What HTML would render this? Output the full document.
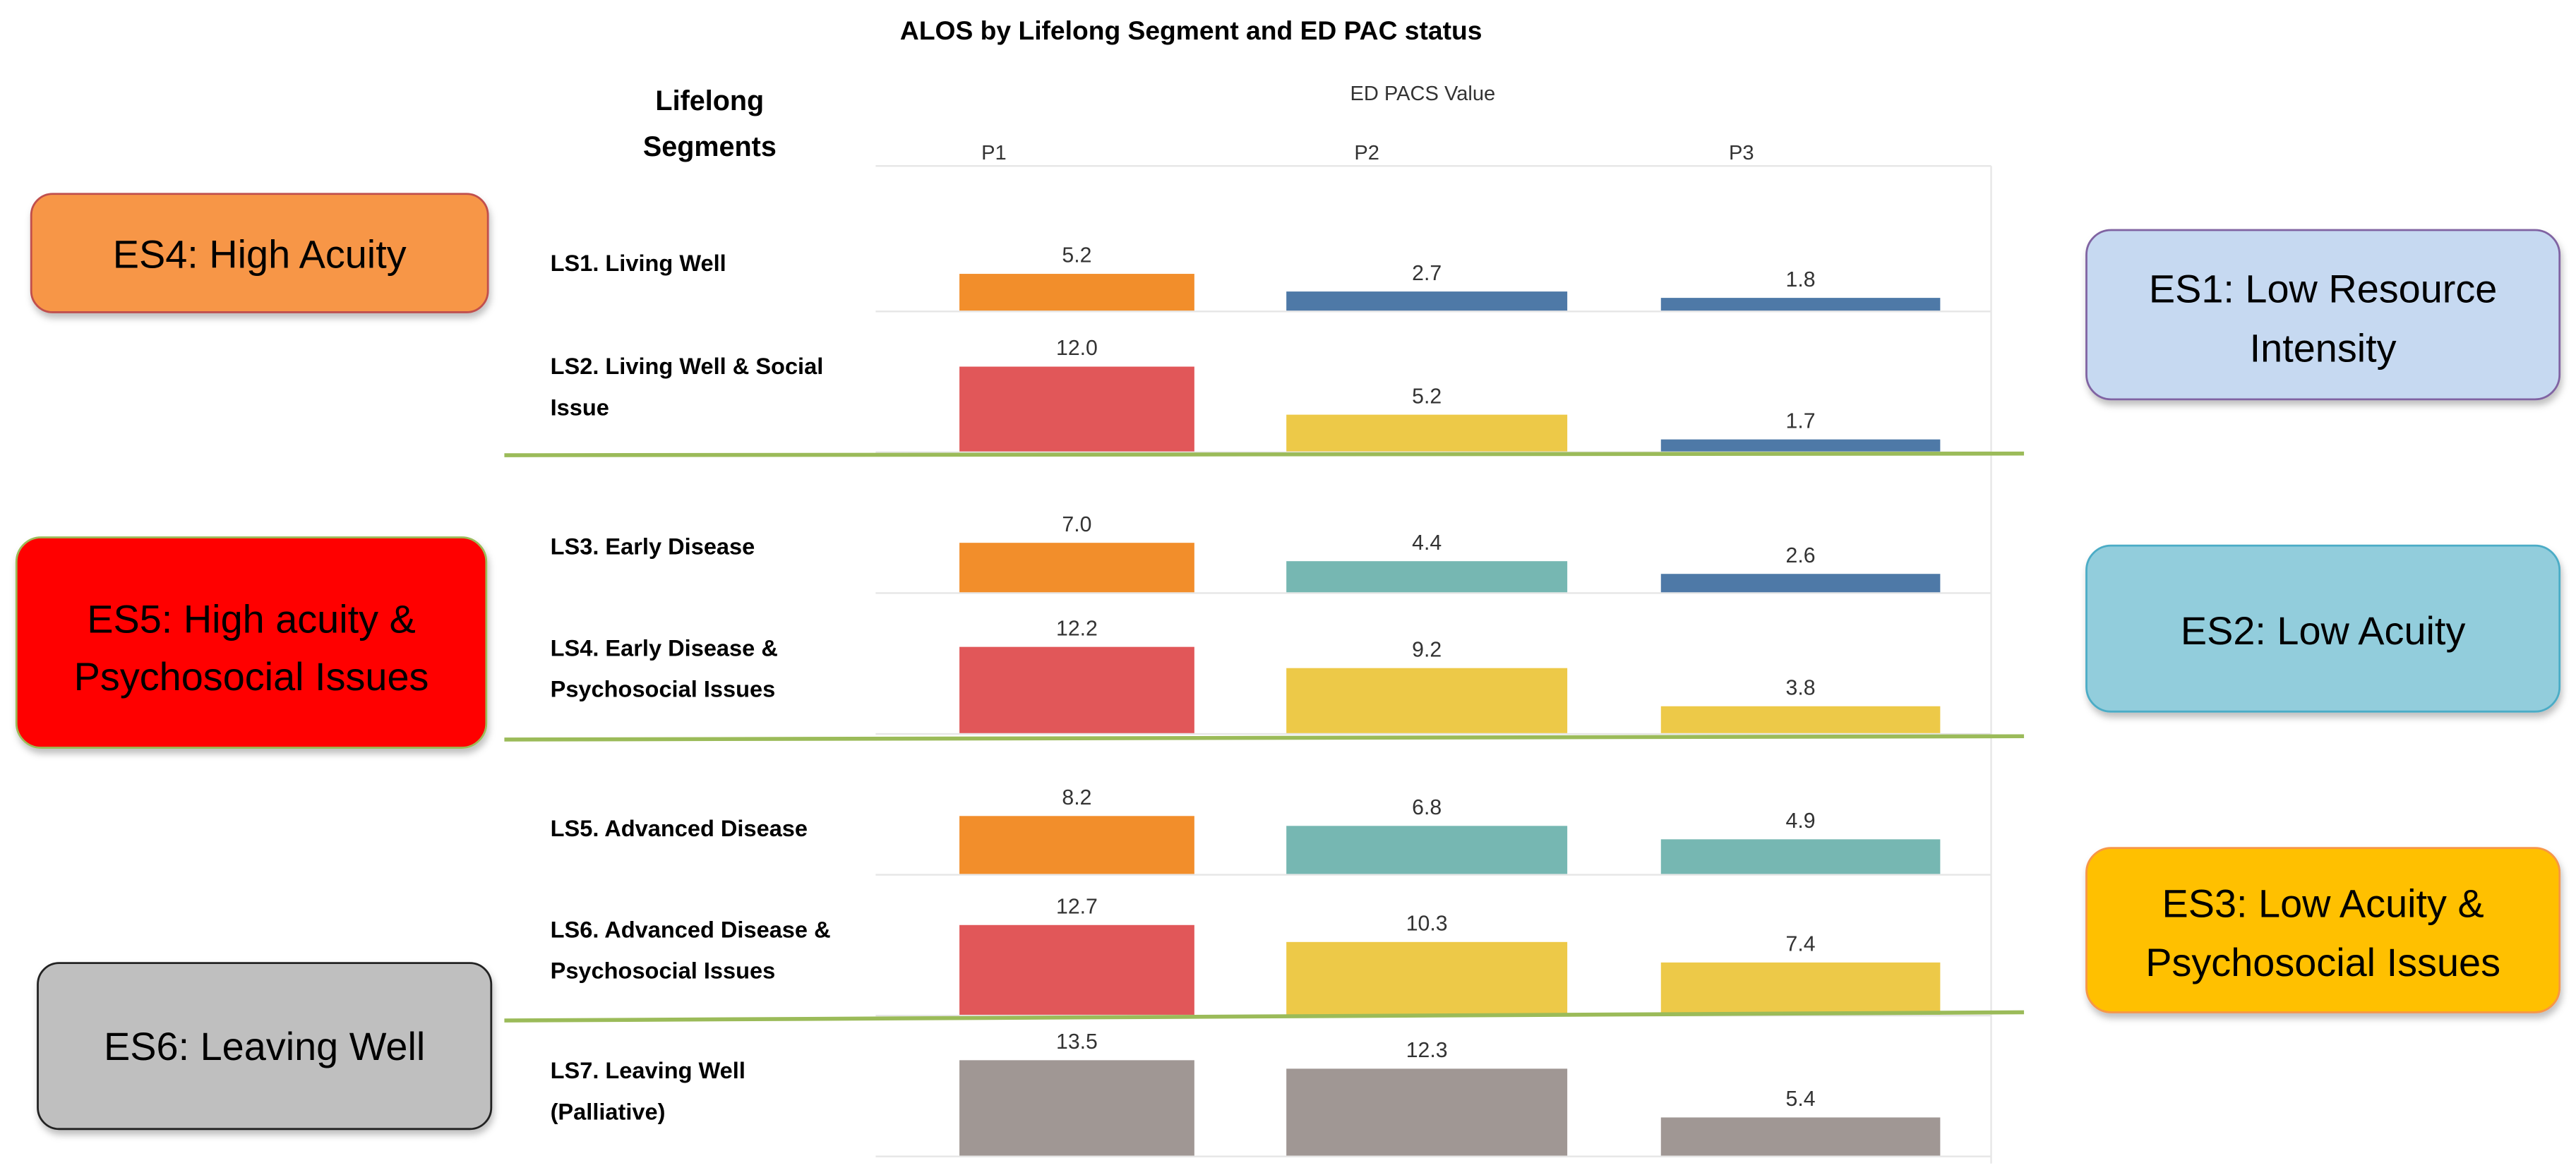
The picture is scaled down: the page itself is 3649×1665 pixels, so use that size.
<!DOCTYPE html>
<html><head><meta charset="utf-8"><style>
html,body{margin:0;padding:0;background:#fff;}
svg{display:block;}
text{font-family:"Liberation Sans",sans-serif;}
</style></head><body>
<svg id="chart" width="3649" height="1665" viewBox="0 0 1568 715" preserveAspectRatio="none" xmlns="http://www.w3.org/2000/svg">
<defs><filter id="sh" x="-10%" y="-10%" width="130%" height="140%"><feDropShadow dx="1" dy="3" stdDeviation="2" flood-color="#000" flood-opacity="0.25"/></filter></defs>
<text x="725" y="24" font-size="16" font-weight="bold" text-anchor="middle">ALOS by Lifelong Segment and ED PAC status</text>
<text x="432" y="67" font-size="17" font-weight="bold" text-anchor="middle">Lifelong</text>
<text x="432" y="95" font-size="17" font-weight="bold" text-anchor="middle">Segments</text>
<text x="866" y="61" font-size="12.5" fill="#333" text-anchor="middle">ED PACS Value</text>
<line x1="533" y1="101" x2="1212" y2="101" stroke="#e6e6e6" stroke-width="1"/>
<line x1="1212" y1="101" x2="1212" y2="708" stroke="#e6e6e6" stroke-width="1"/>
<g id="cols"></g><g id="rows"></g><g id="bars"></g>
<line x1="307" y1="277" x2="1232" y2="276" stroke="#9bbb59" stroke-width="2.4"/>
<line x1="307" y1="450" x2="1232" y2="448" stroke="#9bbb59" stroke-width="2.4"/>
<line x1="307" y1="621" x2="1232" y2="616" stroke="#9bbb59" stroke-width="2.4"/>

<g filter="url(#sh)"><rect x="19" y="118" width="278" height="72" rx="13" fill="#F79646" stroke="#c0504d" stroke-width="1.2"/></g>
<text x="158" y="163" font-size="24" text-anchor="middle">ES4: High Acuity</text>
<g filter="url(#sh)"><rect x="10" y="327" width="286" height="128" rx="15" fill="#FF0000" stroke="#9bbb59" stroke-width="1.2"/></g>
<text x="153" y="385" font-size="24" text-anchor="middle">ES5: High acuity &amp;</text>
<text x="153" y="420" font-size="24" text-anchor="middle">Psychosocial Issues</text>
<g filter="url(#sh)"><rect x="23" y="586" width="276" height="101" rx="13" fill="#BFBFBF" stroke="#222" stroke-width="1.2"/></g>
<text x="161" y="645" font-size="24" text-anchor="middle">ES6: Leaving Well</text>
<g filter="url(#sh)"><rect x="1270" y="140" width="288" height="103" rx="15" fill="#C6D9F1" stroke="#8064A2" stroke-width="1.2"/></g>
<text x="1414" y="184" font-size="24" text-anchor="middle">ES1: Low Resource</text>
<text x="1414" y="220" font-size="24" text-anchor="middle">Intensity</text>
<g filter="url(#sh)"><rect x="1270" y="332" width="288" height="101" rx="15" fill="#92CDDC" stroke="#4bacc6" stroke-width="1.2"/></g>
<text x="1414" y="392" font-size="24" text-anchor="middle">ES2: Low Acuity</text>
<g filter="url(#sh)"><rect x="1270" y="516" width="288" height="100" rx="15" fill="#FFC000" stroke="#f79646" stroke-width="1.2"/></g>
<text x="1414" y="558" font-size="24" text-anchor="middle">ES3: Low Acuity &amp;</text>
<text x="1414" y="594" font-size="24" text-anchor="middle">Psychosocial Issues</text>
</svg>
<script>
const columns = ["P1", "P2", "P3"];
const segmentLines = [["LS1. Living Well"], ["LS2. Living Well & Social", "Issue"], ["LS3. Early Disease"], ["LS4. Early Disease &", "Psychosocial Issues"], ["LS5. Advanced Disease"], ["LS6. Advanced Disease &", "Psychosocial Issues"], ["LS7. Leaving Well", "(Palliative)"]];
const valuesP1 = [5.2, 12.0, 7.0, 12.2, 8.2, 12.7, 13.5];
const valuesP2 = [2.7, 5.2, 4.4, 9.2, 6.8, 10.3, 12.3];
const valuesP3 = [1.8, 1.7, 2.6, 3.8, 4.9, 7.4, 5.4];
const colorGroupP1 = ["orange", "red", "orange", "red", "orange", "red", "gray"];
const colorGroupP2 = ["blue", "yellow", "teal", "yellow", "teal", "yellow", "gray"];
const colorGroupP3 = ["blue", "blue", "blue", "yellow", "teal", "yellow", "gray"];

const palette = {orange:"#F28E2B", red:"#E15759", blue:"#4E79A7", yellow:"#EDC948", teal:"#76B7B2", gray:"#A09794"};
const NS = "http://www.w3.org/2000/svg";
const colLeft = [584, 783, 1011], colWidth = [143, 171, 170];
function xBand(i){ return colLeft[i]; }
function rowBase(r){ return 189 + r * 85.7; }
function yScale(v){ return v * 4.3; }
function mk(tag, attrs, parent){ const e = document.createElementNS(NS, tag); for (const k in attrs) e.setAttribute(k, attrs[k]); parent.appendChild(e); return e; }
const colsG = document.getElementById("cols"), rowsG = document.getElementById("rows"), barsG = document.getElementById("bars");
columns.forEach((c, i) => {
  const t = mk("text", {x: xBand(i) + (i === 0 ? 21 : 49), y: 97, "font-size": 12.5, fill: "#333", "text-anchor": "middle"}, colsG);
  
  
  t.textContent = c;
});
const series = [valuesP1, valuesP2, valuesP3];
const groups = [colorGroupP1, colorGroupP2, colorGroupP3];
segmentLines.forEach((lines, r) => {
  const base = rowBase(r);
  const ln = mk("line", {x1: 533, x2: 1212, y1: base + 0.5, y2: base + 0.5, stroke: "#e6e6e6", "stroke-width": 1}, rowsG);
  
  
  const ys = lines.length === 1 ? [base - 23] : [base - 47, base - 22];
  if (r === 0) ys[0] = 165;
  lines.forEach((s, k) => {
    const t = mk("text", {x: 335, y: ys[k], "font-size": 14, "font-weight": "bold"}, rowsG);
    
    
    t.textContent = s;
  });
  series.forEach((vals, c) => {
    const h = yScale(vals[r]);
    const b = mk("rect", {x: xBand(c), y: base - h, width: colWidth[c], height: h, fill: palette[groups[c][r]]}, barsG);
    
    
    const t = mk("text", {x: xBand(c) + colWidth[c] / 2, y: base - h - 7, "font-size": 13, fill: "#333", "text-anchor": "middle"}, barsG);
    
    
    t.textContent = vals[r].toFixed(1);
  });
});
</script>
</body></html>
